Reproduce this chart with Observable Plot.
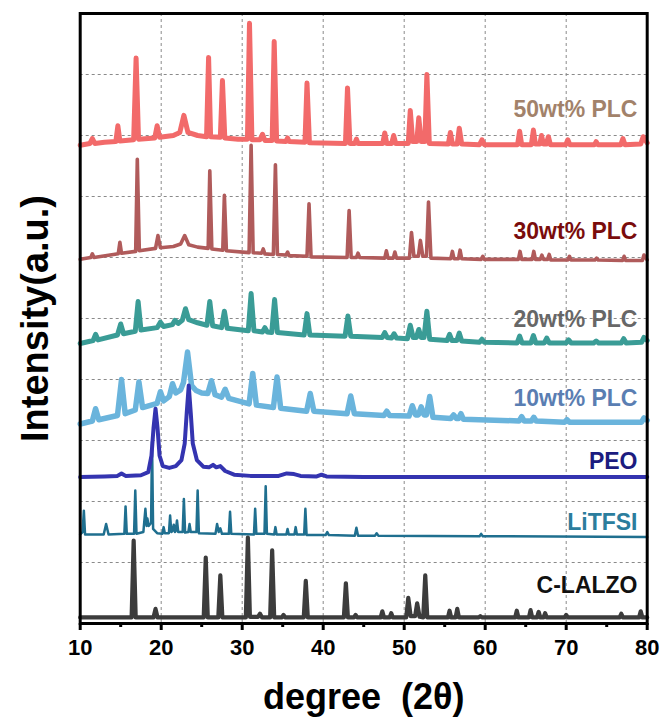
<!DOCTYPE html>
<html>
<head>
<meta charset="utf-8">
<script src="https://cdn.jsdelivr.net/npm/d3@7"></script>
<script src="https://cdn.jsdelivr.net/npm/@observablehq/plot@0.6"></script>
<style>
  html, body { margin: 0; padding: 0; background: #fff; }
  #chart svg { display: block; }
</style>
</head>
<body>
<div id="chart"></div>
<script>
// ---- Data (2θ in degrees, offset intensity in a.u.) ----
const plc50 = [
[10,7.84],[11.2,7.87],[11.5,7.95],[11.8,7.87],[13,7.89],[14.4,7.9],[14.65,8.16],[14.9,7.91],[16.6,7.93],[16.9,9.27],[17.2,7.94],[19.2,7.96],[19.5,8.16],[19.8,7.97],[21.5,8.0],[22.3,8.05],[22.8,8.33],[23.3,8.05],[24.5,8.0],[25.6,7.98],[25.85,9.28],[26.1,7.98],[27.3,7.97],[27.56,8.9],[27.85,7.96],[29.5,7.94],[30.65,7.94],[30.9,9.84],[31.2,7.93],[32.2,7.93],[32.5,8.02],[32.8,7.92],[33.7,7.92],[33.95,9.54],[34.25,7.91],[35.4,7.9],[35.6,7.96],[35.8,7.9],[37.75,7.89],[38.0,8.86],[38.3,7.88],[42.75,7.87],[43.0,8.78],[43.3,7.87],[43.9,7.87],[44.1,7.94],[44.3,7.87],[47.35,7.87],[47.6,8.04],[47.85,7.87],[48.45,7.87],[48.7,8.0],[48.95,7.87],[50.5,7.87],[50.75,8.41],[51.05,7.9],[51.55,7.9],[51.8,8.29],[52.1,7.9],[52.55,7.9],[52.8,9.0],[53.1,7.87],[55.45,7.86],[55.7,8.05],[55.95,7.86],[56.55,7.86],[56.8,8.12],[57.1,7.86],[59.3,7.85],[59.6,7.93],[59.9,7.85],[64.0,7.85],[64.25,8.07],[64.5,7.85],[65.7,7.85],[65.95,8.09],[66.2,7.86],[66.75,7.86],[66.95,8.0],[67.2,7.86],[67.55,7.86],[67.8,7.98],[68.05,7.85],[69.95,7.85],[70.2,7.93],[70.45,7.85],[73.5,7.85],[73.7,7.9],[73.9,7.85],[76.75,7.85],[77.0,7.95],[77.25,7.85],[79.2,7.86],[79.5,7.98],[80,7.88]
];
const plc30 = [
[10,5.97],[11.3,6.0],[11.5,6.06],[11.7,6.0],[14.7,6.06],[14.9,6.25],[15.1,6.07],[16.85,6.1],[17.05,7.61],[17.3,6.11],[19.3,6.15],[19.6,6.36],[19.9,6.16],[21.5,6.18],[22.4,6.22],[22.9,6.36],[23.4,6.21],[24.5,6.17],[25.8,6.15],[26.0,7.42],[26.25,6.14],[27.6,6.12],[27.8,7.02],[28.05,6.11],[30.85,6.08],[31.1,7.84],[31.35,6.08],[32.4,6.07],[32.6,6.14],[32.8,6.06],[33.85,6.05],[34.1,7.52],[34.35,6.05],[35.4,6.04],[35.6,6.09],[35.8,6.03],[38.0,6.02],[38.25,6.88],[38.5,6.01],[42.95,6.0],[43.2,6.77],[43.45,6.0],[44.1,6.0],[44.3,6.07],[44.5,6.0],[47.6,5.99],[47.8,6.11],[48.0,5.99],[48.65,5.99],[48.85,6.09],[49.05,5.99],[50.65,5.99],[50.9,6.41],[51.2,6.02],[51.75,6.02],[52.0,6.28],[52.3,6.02],[52.75,6.02],[53.0,6.91],[53.3,5.99],[55.75,5.98],[55.95,6.1],[56.15,5.98],[56.7,5.98],[56.9,6.12],[57.1,5.98],[59.5,5.97],[59.7,6.02],[59.9,5.97],[64.1,5.97],[64.3,6.1],[64.5,5.97],[65.8,5.97],[66.0,6.1],[66.2,5.97],[66.8,5.97],[67.0,6.04],[67.2,5.97],[67.7,5.97],[67.9,6.05],[68.1,5.96],[70.2,5.96],[70.4,6.02],[70.6,5.96],[73.55,5.96],[73.75,5.99],[73.95,5.96],[76.95,5.95],[77.15,6.02],[77.35,5.95],[79.4,5.95],[79.6,6.04],[80,5.96]
];
const plc20 = [
[10,4.59],[11.6,4.64],[11.9,4.74],[12.2,4.65],[14.6,4.73],[15.0,4.91],[15.35,4.75],[16.8,4.79],[17.15,5.28],[17.5,4.81],[19.5,4.85],[19.9,4.94],[20.3,4.87],[21.4,4.9],[21.7,4.97],[22.1,4.92],[22.6,4.97],[23.0,5.16],[23.4,4.98],[24.5,4.93],[25.65,4.89],[26.0,5.28],[26.35,4.88],[27.45,4.85],[27.8,5.12],[28.15,4.84],[30.75,4.8],[31.1,5.41],[31.45,4.8],[32.5,4.78],[32.8,4.85],[33.1,4.78],[33.65,4.77],[34.0,5.31],[34.35,4.77],[37.65,4.73],[38.0,5.08],[38.35,4.73],[42.7,4.71],[43.05,5.04],[43.4,4.71],[47.3,4.69],[47.6,4.77],[47.9,4.69],[48.45,4.68],[48.75,4.75],[49.05,4.68],[50.4,4.67],[50.75,4.89],[51.1,4.69],[51.5,4.69],[51.8,4.82],[52.1,4.69],[52.45,4.69],[52.8,5.12],[53.15,4.66],[55.3,4.64],[55.6,4.74],[55.9,4.64],[56.5,4.64],[56.8,4.76],[57.1,4.63],[59.3,4.61],[59.6,4.66],[59.9,4.61],[63.95,4.6],[64.25,4.71],[64.55,4.6],[65.65,4.6],[65.95,4.72],[66.25,4.6],[67.3,4.6],[67.6,4.68],[67.9,4.6],[70.0,4.6],[70.3,4.65],[70.6,4.6],[73.4,4.6],[73.7,4.63],[74.0,4.6],[76.8,4.6],[77.1,4.67],[77.4,4.6],[79.3,4.61],[79.6,4.69],[80,4.64]
];
const plc10 = [
[10,3.27],[11.5,3.32],[11.9,3.52],[12.3,3.34],[14.6,3.41],[15.1,4.0],[15.55,3.44],[16.8,3.5],[17.25,3.96],[17.7,3.54],[19.5,3.61],[19.9,3.8],[20.3,3.65],[21.0,3.72],[21.4,3.93],[21.8,3.78],[22.4,3.83],[22.75,3.95],[23.25,4.45],[23.75,3.9],[24.3,3.82],[25.0,3.78],[25.75,3.77],[26.2,3.98],[26.65,3.75],[27.45,3.71],[27.9,3.84],[28.35,3.69],[30.85,3.6],[31.3,4.10],[31.75,3.58],[33.85,3.54],[34.3,4.04],[34.75,3.53],[37.95,3.48],[38.4,3.77],[38.85,3.48],[42.95,3.44],[43.4,3.73],[43.85,3.44],[47.5,3.41],[47.85,3.48],[48.2,3.41],[50.6,3.4],[51.0,3.57],[51.4,3.42],[51.75,3.42],[52.1,3.55],[52.45,3.42],[52.75,3.42],[53.15,3.72],[53.55,3.38],[55.75,3.36],[56.1,3.42],[56.45,3.36],[56.7,3.36],[57.0,3.44],[57.3,3.35],[64.2,3.32],[64.5,3.39],[64.8,3.32],[65.7,3.32],[66.0,3.38],[66.3,3.32],[69.8,3.3],[70.1,3.34],[70.4,3.3],[79.3,3.3],[79.6,3.37],[80,3.33]
];
const peo = [
[10,2.4],[13,2.41],[14.6,2.42],[15.1,2.46],[15.6,2.42],[17.5,2.43],[18.4,2.48],[18.8,2.75],[19.05,3.2],[19.3,3.52],[19.55,3.2],[19.8,2.75],[20.2,2.58],[21.0,2.55],[21.8,2.58],[22.5,2.68],[22.9,2.95],[23.15,3.45],[23.4,3.9],[23.65,3.45],[23.9,2.95],[24.4,2.68],[25.2,2.57],[25.9,2.56],[26.4,2.6],[26.8,2.56],[27.3,2.58],[27.9,2.5],[29,2.44],[31,2.42],[34.5,2.42],[35.5,2.46],[36.4,2.45],[37.2,2.42],[39.2,2.41],[39.8,2.44],[40.4,2.41],[45,2.4],[80,2.4]
];
const litfsi = [
[10,1.46],[10.3,1.5],[10.45,1.85],[10.6,1.46],[12.9,1.46],[13.2,1.63],[13.5,1.46],[15.45,1.47],[15.6,1.92],[15.75,1.47],[16.65,1.47],[16.8,2.18],[16.95,1.47],[17.8,1.5],[18.05,1.88],[18.2,1.6],[18.3,1.72],[18.45,1.6],[18.75,1.65],[18.87,2.98],[19.0,1.55],[19.5,1.48],[20.15,1.47],[20.3,1.58],[20.45,1.48],[20.95,1.48],[21.1,1.77],[21.25,1.5],[21.4,1.52],[21.55,1.62],[21.7,1.5],[21.8,1.52],[21.95,1.69],[22.1,1.5],[22.65,1.5],[22.8,2.04],[22.95,1.49],[23.35,1.5],[23.5,1.63],[23.65,1.5],[24.35,1.5],[24.5,2.18],[24.65,1.48],[26.7,1.47],[26.9,1.63],[27.1,1.5],[27.3,1.56],[27.5,1.47],[28.35,1.47],[28.5,1.83],[28.65,1.47],[31.45,1.46],[31.6,1.88],[31.75,1.47],[32.75,1.47],[32.9,2.25],[33.05,1.47],[33.95,1.46],[34.1,1.58],[34.25,1.46],[35.45,1.46],[35.6,1.55],[35.75,1.46],[36.45,1.46],[36.6,1.58],[36.75,1.46],[37.65,1.46],[37.8,1.88],[37.95,1.45],[40.3,1.45],[40.5,1.5],[40.7,1.45],[43.9,1.44],[44.1,1.57],[44.3,1.44],[46.4,1.44],[46.6,1.48],[46.8,1.44],[59.3,1.43],[59.5,1.47],[59.7,1.43],[80,1.42]
];
const lalzo = [
[10,0.1],[16.35,0.1],[16.6,1.36],[16.85,0.1],[19.05,0.1],[19.3,0.24],[19.55,0.1],[25.25,0.1],[25.5,1.08],[25.75,0.1],[27.05,0.1],[27.3,0.79],[27.55,0.1],[30.45,0.1],[30.7,1.41],[30.95,0.11],[31.95,0.11],[32.2,0.16],[32.45,0.1],[33.45,0.1],[33.7,1.2],[33.95,0.1],[34.9,0.1],[35.1,0.14],[35.3,0.1],[37.6,0.1],[37.85,0.7],[38.1,0.1],[42.55,0.1],[42.8,0.66],[43.05,0.1],[43.8,0.1],[44.0,0.14],[44.2,0.1],[47.1,0.1],[47.3,0.2],[47.5,0.1],[48.2,0.1],[48.4,0.17],[48.6,0.1],[50.25,0.1],[50.5,0.42],[50.8,0.12],[51.35,0.12],[51.6,0.33],[51.9,0.11],[52.35,0.1],[52.6,0.79],[52.85,0.1],[55.4,0.1],[55.6,0.21],[55.8,0.1],[56.35,0.1],[56.55,0.24],[56.75,0.1],[59.2,0.1],[59.4,0.12],[59.6,0.1],[63.7,0.1],[63.9,0.21],[64.1,0.1],[65.4,0.1],[65.6,0.22],[65.8,0.1],[66.4,0.1],[66.6,0.19],[66.8,0.1],[67.2,0.1],[67.4,0.17],[67.6,0.1],[69.8,0.1],[70.0,0.14],[70.2,0.1],[76.6,0.1],[76.8,0.16],[77.0,0.1],[79.0,0.1],[79.2,0.2],[79.4,0.1],[80,0.1]
];

const seriesNames  = ["50wt% PLC", "30wt% PLC", "20wt% PLC", "10wt% PLC", "LiTFSI", "PEO", "C-LALZO"];
const seriesData   = [plc50, plc30, plc20, plc10, litfsi, peo, lalzo];
const seriesColors = ["#f26a6a", "#b05b5b", "#3a9c96", "#6ab4dc", "#1f6f8f", "#3434b0", "#3c3c3c"];
const seriesWidths = [5, 3.6, 5, 5.5, 2.5, 4, 4.2];

const labelNames  = ["50wt% PLC", "30wt% PLC", "20wt% PLC", "10wt% PLC", "PEO", "LiTFSI", "C-LALZO"];
const labelY      = [8.43, 6.42, 4.98, 3.68, 2.65, 1.66, 0.62];
const labelColors = ["#a2826a", "#7a0c0c", "#676767", "#5a7eb2", "#1c1c80", "#2b7d9d", "#111111"];
const labelX      = 78.8;

const xTicks = [10, 20, 30, 40, 50, 60, 70, 80];
const xMinor = [15, 25, 35, 45, 55, 65, 75];
const xGrid  = [20, 30, 40, 50, 60, 70];
const yGrid  = [1, 2, 3, 4, 5, 6, 7, 8, 9];
const xTitle = "degree  (2θ)";
const yTitle = "Intensity(a.u.)";

const FONT = "'Liberation Sans', Arial, Helvetica, sans-serif";

const lineMarks = seriesData.map((data, i) =>
  Plot.line(data, {
    x: d => d[0], y: d => d[1],
    stroke: seriesColors[i], strokeWidth: seriesWidths[i],
    strokeLinejoin: "round", strokeLinecap: "round"
  })
);

const labelRows = labelNames.map((name, i) => ({name, y: labelY[i], color: labelColors[i]}));

const chart = Plot.plot({
  width: 663,
  height: 724,
  marginLeft: 79.7,
  marginRight: 16.3,
  marginTop: 13,
  marginBottom: 101,
  style: {fontFamily: FONT, background: "#fff", overflow: "visible"},
  x: {domain: [10, 80]},
  y: {domain: [0, 10], axis: null},
  marks: [
    Plot.gridX(xGrid, {stroke: "#8a8a8a", strokeOpacity: 1, strokeDasharray: "3,3", strokeWidth: 1}),
    Plot.gridY(yGrid, {stroke: "#8a8a8a", strokeOpacity: 1, strokeDasharray: "3,3", strokeWidth: 1}),
    ...lineMarks,
    Plot.text(labelRows, {
      x: () => labelX, y: "y", text: "name", fill: "color",
      textAnchor: "end", lineAnchor: "middle",
      fontSize: 23, fontWeight: "bold"
    }),
    Plot.frame({stroke: "#000", strokeWidth: 3}),
    Plot.axisX(xTicks, {
      tickSize: 7, strokeWidth: 3, tickPadding: 9,
      fontSize: 22, fontWeight: "bold", fill: "#000", label: null
    }),
    Plot.axisX(xMinor, {tickSize: 4, strokeWidth: 3, tickFormat: () => "", label: null}),
    Plot.text([xTitle], {
      text: d => d, frameAnchor: "bottom", dy: 74, lineAnchor: "middle", textAnchor: "middle",
      fontSize: 36, fontWeight: "bold", fill: "#000"
    }),
    Plot.text([yTitle], {
      text: d => d, frameAnchor: "left", dx: -44, rotate: -90, lineAnchor: "middle", textAnchor: "middle",
      fontSize: 38, fontWeight: "bold", fill: "#000"
    })
  ]
});

document.getElementById("chart").appendChild(chart);
</script>
</body>
</html>
